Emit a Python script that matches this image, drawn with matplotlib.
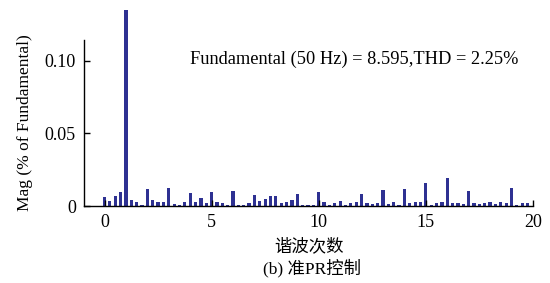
import numpy as np
from matplotlib import pyplot as plt

plt.rcParams['font.family'] = ['Liberation Serif', 'Noto Sans CJK SC']

# harmonic order, step 0.25 (0 .. 19.75)
harmonic = np.arange(0, 20, 0.25)

# magnitude (fraction of fundamental), four values per harmonic order
mag = [
    0.0062, 0.0035, 0.0069, 0.0097,
    0.1350, 0.0044, 0.0025, 0.0007,
    0.0115, 0.0039, 0.0030, 0.0025,
    0.0122, 0.0012, 0.0005, 0.0030,
    0.0087, 0.0028, 0.0053, 0.0018,
    0.0099, 0.0025, 0.0020, 0.0007,
    0.0106, 0.0007, 0.0007, 0.0020,
    0.0076, 0.0032, 0.0046, 0.0067,
    0.0067, 0.0018, 0.0028, 0.0041,
    0.0081, 0.0007, 0.0005, 0.0007,
    0.0097, 0.0030, 0.0009, 0.0020,
    0.0037, 0.0009, 0.0018, 0.0028,
    0.0083, 0.0020, 0.0012, 0.0020,
    0.0110, 0.0014, 0.0028, 0.0009,
    0.0120, 0.0018, 0.0030, 0.0028,
    0.0160, 0.0009, 0.0018, 0.0028,
    0.0190, 0.0020, 0.0020, 0.0014,
    0.0104, 0.0018, 0.0012, 0.0018,
    0.0028, 0.0012, 0.0025, 0.0018,
    0.0122, 0.0005, 0.0018, 0.0020,
]

xticks = [0, 5, 10, 15, 20]
yticks = [0, 0.05, 0.10]
yticklabels = ['0', '0.05', '0.10']

fig = plt.figure(figsize=(5.5, 2.83), dpi=100)
ax = fig.add_axes([0.153, 0.272, 0.816, 0.587])

bars = ax.bar(harmonic, mag, width=0.15, color='#2E3192')
for b in bars:
    b.set_clip_on(False)

ax.set_xlim(-0.95, 20)
ax.set_ylim(0, 0.1145)
ax.set_xticks(xticks)
ax.set_yticks(yticks)
ax.set_yticklabels(yticklabels)
ax.tick_params(direction='in', length=4, width=1, labelsize=13, pad=6)
ax.spines['top'].set_visible(False)
ax.spines['right'].set_visible(False)
for s in ['left', 'bottom']:
    ax.spines[s].set_linewidth(1)

ax.set_ylabel('Mag (% of Fundamental)', fontsize=12.5, labelpad=8)
ax.set_xlabel('谐波次数', fontsize=12.5, labelpad=5)
ax.text(0.235, 0.885, 'Fundamental (50 Hz) = 8.595,THD = 2.25%',
        transform=ax.transAxes, fontsize=13.2, va='center', ha='left')
fig.text(0.567, 0.053, '(b) 准PR控制', fontsize=12.5, ha='center', va='center')

fig.savefig('out.png', dpi=100)
